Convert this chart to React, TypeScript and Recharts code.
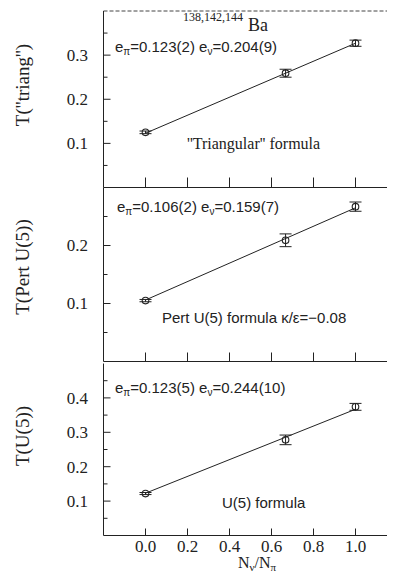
import React from 'react';
import { ComposedChart, Line, Scatter, ErrorBar, XAxis, YAxis, ReferenceLine } from 'recharts';

// N_nu / N_pi for the three Ba isotopes
const ratioX = [0, 0.667, 1];
const fitX = [0, 1];

const triangY = [0.125, 0.259, 0.327];
const triangErr = [0.003, 0.009, 0.007];
const triangFit = [0.123, 0.327];

const pertY = [0.105, 0.209, 0.267];
const pertErr = [0.002, 0.011, 0.008];
const pertFit = [0.106, 0.265];

const u5Y = [0.122, 0.278, 0.374];
const u5Err = [0.003, 0.014, 0.01];
const u5Fit = [0.123, 0.367];

const xTicks = [0, 0.2, 0.4, 0.6, 0.8, 1.0];
const triangTicks = [0.05, 0.1, 0.15, 0.2, 0.25, 0.3, 0.35];
const pertTicks = [0.05, 0.1, 0.15, 0.2, 0.25];
const u5Ticks = [0.05, 0.1, 0.15, 0.2, 0.25, 0.3, 0.35, 0.4, 0.45];

const INK = '#222';
const SERIF = 'Liberation Serif, DejaVu Serif, serif';
const SANS = 'Liberation Sans, Arial, sans-serif';
const CH_W = 400;
const CH_H = 579;
const Y_W = 60;
const PLOT_L = 103.5;
const PLOT_R = 397.5;
const X_H = 30;
const Y_MARGIN = 15.5;
const X_MARGIN = 11;

const YTick = (props: any) => {
  const { x, y, payload } = props;
  const ax = x + Y_MARGIN;
  const v = payload.value;
  const major = Math.abs(v * 10 - Math.round(v * 10)) < 1e-6;
  return (
    <g>
      <line x1={ax} x2={ax + (major ? 7 : 4)} y1={y} y2={y} stroke={INK} strokeWidth={1} />
      {major && (
        <text x={x} y={y} dy="0.35em" textAnchor="end" fontFamily={SERIF} fontSize={17} fill={INK}>
          {v.toFixed(1)}
        </text>
      )}
    </g>
  );
};

const makeXTick = (len: number, labels: boolean) => (props: any) => {
  const { x, y, payload } = props;
  const ay = y - X_MARGIN;
  return (
    <g>
      <line x1={x} x2={x} y1={ay} y2={ay - len} stroke={INK} strokeWidth={1} />
      {labels && (
        <text x={x} y={y} dy="0.3em" textAnchor="middle" fontFamily={SERIF} fontSize={17} fill={INK}>
          {payload.value.toFixed(1)}
        </text>
      )}
    </g>
  );
};

const Dot = (p: any) => <circle cx={p.cx} cy={p.cy} r={3.3} fill="none" stroke={INK} strokeWidth={1.1} />;

interface PanelProps {
  ys: number[];
  errs: number[];
  fit: number[];
  ticks: number[];
  yMax: number;
  top: number;
  bottom: number;
  tickLen: number;
  labels: boolean;
  border?: boolean;
}

const Panel: React.FC<PanelProps> = ({ ys, errs, fit, ticks, yMax, top, bottom, tickLen, labels, border }) => {
  const pts = ratioX.map((x, i) => ({ x, y: ys[i], err: errs[i] }));
  const line = fitX.map((x, i) => ({ x, y: fit[i] }));
  return (
    <div style={{ position: 'absolute', left: 0, top: 0 }}>
      <ComposedChart
        width={CH_W}
        height={CH_H}
        margin={{ top, bottom: CH_H - bottom - X_H, left: PLOT_L - Y_W, right: CH_W - PLOT_R }}
      >
        <XAxis
          type="number"
          dataKey="x"
          domain={[-0.2, 1.2]}
          ticks={xTicks}
          interval={0}
          height={X_H}
          tickSize={0}
          tickMargin={X_MARGIN}
          tickLine={false}
          axisLine={{ stroke: INK, strokeWidth: 1 }}
          tick={makeXTick(tickLen, labels)}
        />
        <YAxis
          type="number"
          dataKey="y"
          domain={[0, yMax]}
          ticks={ticks}
          interval={0}
          width={Y_W}
          tickSize={0}
          tickMargin={Y_MARGIN}
          tickLine={false}
          axisLine={{ stroke: INK, strokeWidth: 1 }}
          tick={YTick}
        />
        {border && <ReferenceLine y={yMax} stroke="#444" strokeDasharray="4 2" />}
        <Line data={line} dataKey="y" stroke={INK} strokeWidth={1} dot={false} isAnimationActive={false} />
        <Scatter data={pts} dataKey="y" shape={Dot} isAnimationActive={false}>
          <ErrorBar dataKey="err" direction="y" width={6} stroke={INK} strokeWidth={1} />
        </Scatter>
      </ComposedChart>
    </div>
  );
};

const eLabel = (x: number, y: number, ep: string, en: string) => (
  <text x={x} y={y} fontFamily={SANS} fontSize={15} fill={INK}>
    e<tspan dy={3} fontSize={10}>π</tspan>
    <tspan dy={-3}>={ep} e</tspan>
    <tspan dy={3} fontSize={10}>ν</tspan>
    <tspan dy={-3}>={en}</tspan>
  </text>
);

export default function App() {
  return (
    <div style={{ position: 'relative', width: 395, height: 579, margin: -8, overflow: 'hidden', background: '#fff' }}>
      <Panel ys={triangY} errs={triangErr} fit={triangFit} ticks={triangTicks} yMax={0.4} top={11} bottom={187.5} tickLen={10} labels={false} border />
      <Panel ys={pertY} errs={pertErr} fit={pertFit} ticks={pertTicks} yMax={0.3} top={187.5} bottom={361.5} tickLen={9} labels={false} />
      <Panel ys={u5Y} errs={u5Err} fit={u5Fit} ticks={u5Ticks} yMax={0.5} top={363.5} bottom={535.5} tickLen={7} labels />
      <svg width={395} height={579} style={{ position: 'absolute', left: 0, top: 0, pointerEvents: 'none' }}>
        <text x={183} y={21} fontFamily={SERIF} fontSize={12} fill={INK}>138,142,144</text>
        <text x={248} y={31} fontFamily={SERIF} fontSize={18} fill={INK}>Ba</text>
        {eLabel(115, 52, '0.123(2)', '0.204(9)')}
        <text x={187} y={149} fontFamily={SERIF} fontSize={16} fill={INK}>''Triangular'' formula</text>
        {eLabel(117, 212, '0.106(2)', '0.159(7)')}
        <text x={162} y={323} fontFamily={SANS} fontSize={15} fill={INK}>Pert U(5) formula κ/ε=−0.08</text>
        {eLabel(115, 393, '0.123(5)', '0.244(10)')}
        <text x={222} y={508} fontFamily={SANS} fontSize={15} fill={INK}>U(5) formula</text>
        <text transform="translate(29,85) rotate(-90)" textAnchor="middle" fontFamily={SERIF} fontSize={19} fill={INK}>T(''triang'')</text>
        <text transform="translate(29,267) rotate(-90)" textAnchor="middle" fontFamily={SERIF} fontSize={19} fill={INK}>T(Pert U(5))</text>
        <text transform="translate(29,436) rotate(-90)" textAnchor="middle" fontFamily={SERIF} fontSize={19} fill={INK}>T(U(5))</text>
        <text x={257} y={568} textAnchor="middle" fontFamily={SERIF} fontSize={16} fill={INK}>
          N<tspan dy={3} fontSize={11}>ν</tspan>
          <tspan dy={-3}>/N</tspan>
          <tspan dy={3} fontSize={11}>π</tspan>
        </text>
      </svg>
    </div>
  );
}
